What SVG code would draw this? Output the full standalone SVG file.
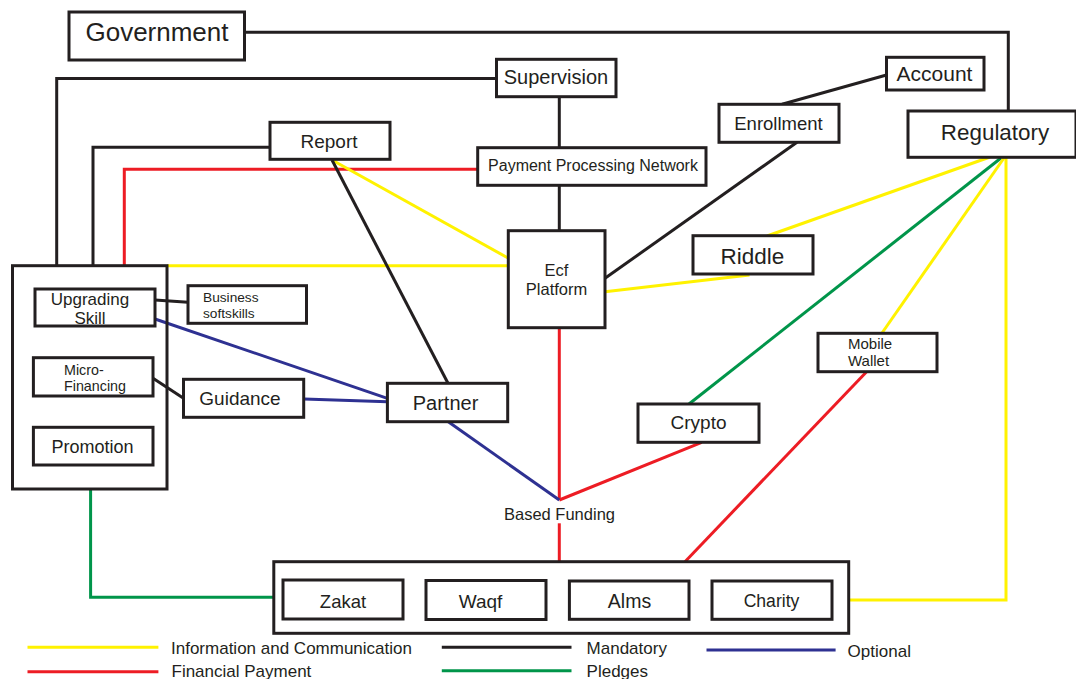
<svg xmlns="http://www.w3.org/2000/svg" width="1076" height="679" viewBox="0 0 1076 679">
<style>
.box{fill:#fff;stroke:#231f20;stroke-width:3}
.cont{fill:none;stroke:#231f20;stroke-width:3}
text{font-family:"Liberation Sans",Arial,sans-serif;fill:#231f20}
.c{text-anchor:middle}
.k{fill:none;stroke:#231f20;stroke-width:3}
.y{fill:none;stroke:#fff200;stroke-width:3}
.r{fill:none;stroke:#ed1c24;stroke-width:3}
.g{fill:none;stroke:#00954a;stroke-width:3}
.b{fill:none;stroke:#2e3192;stroke-width:3}
</style>
<rect width="1076" height="679" fill="#fff"/>
<g id="connectors">
<polyline class="k" points="244.5,32.3 1008.3,32.3 1008.3,111"/>
<polyline class="k" points="496.5,78.5 56.7,78.5 56.7,265.7"/>
<polyline class="k" points="270,147.3 93,147.3 93,265.7"/>
<polyline class="r" points="477.7,169.3 124.3,169.3 124.3,265.7"/>
<line class="y" x1="167" y1="265.7" x2="508" y2="265.7"/>
<line class="y" x1="332" y1="160" x2="508" y2="258"/>
<line class="k" x1="332" y1="160" x2="448" y2="383.3"/>
<line class="k" x1="559.3" y1="96.7" x2="559.3" y2="147.7"/>
<line class="k" x1="559.3" y1="185.3" x2="559.3" y2="230.7"/>
<line class="k" x1="782" y1="104.3" x2="886.5" y2="75"/>
<line class="k" x1="797" y1="142.3" x2="605" y2="278.3"/>
<line class="y" x1="749.5" y1="275" x2="605" y2="291.7"/>
<line class="y" x1="990" y1="157" x2="767" y2="236"/>
<line class="g" x1="1001" y1="158" x2="689" y2="404"/>
<line class="y" x1="1004" y1="158" x2="882" y2="333"/>
<polyline class="y" points="1006,157 1006,600 849,600"/>
<line class="r" x1="559.3" y1="327.7" x2="559.3" y2="500"/>
<line class="r" x1="701.7" y1="442.3" x2="559.3" y2="500"/>
<line class="b" x1="448.3" y1="421.7" x2="559.3" y2="500"/>
<line class="r" x1="559.3" y1="523.3" x2="559.3" y2="561.7"/>
<line class="r" x1="866.6" y1="371.7" x2="685" y2="561.7"/>
<polyline class="g" points="90.6,489 90.6,597.3 273.8,597.3"/>
<line class="b" x1="155" y1="319" x2="387.4" y2="398.3"/>
<line class="b" x1="304" y1="399" x2="387.4" y2="401.7"/>
<line class="k" x1="155" y1="300" x2="188" y2="302.3"/>
<line class="k" x1="153" y1="378.3" x2="183.5" y2="398.3"/>
</g>
<g id="government"><rect class="box" x="69" y="12" width="175.5" height="48"/><text class="c" x="157" y="41" font-size="26">Government</text></g>
<g id="supervision"><rect class="box" x="496.5" y="59.3" width="119.5" height="37.4"/><text class="c" x="556" y="84" font-size="20">Supervision</text></g>
<g id="report"><rect class="box" x="270" y="122.3" width="120" height="37"/><text class="c" x="329" y="147.5" font-size="19">Report</text></g>
<g id="payment-processing-network"><rect class="box" x="477.7" y="147.7" width="228.3" height="37.6"/><text class="c" x="593" y="171" font-size="16">Payment Processing Network</text></g>
<g id="ecf-platform"><rect class="box" x="508.3" y="230.7" width="96.7" height="97"/><text class="c" x="556.5" y="276" font-size="16.5">Ecf</text><text class="c" x="556.5" y="295" font-size="16.5">Platform</text></g>
<g id="account"><rect class="box" x="886.5" y="57.3" width="97.5" height="32.7"/><text class="c" x="934.5" y="80.5" font-size="21">Account</text></g>
<g id="enrollment"><rect class="box" x="719" y="104.3" width="120" height="38"/><text class="c" x="778.5" y="130" font-size="18.5">Enrollment</text></g>
<g id="regulatory"><rect class="box" x="908" y="111" width="168" height="46.3"/><text class="c" x="995" y="140" font-size="22.4">Regulatory</text></g>
<g id="riddle"><rect class="box" x="693" y="235.7" width="120" height="38.3"/><text class="c" x="752.5" y="264" font-size="22.5">Riddle</text></g>
<g id="mobile-wallet"><rect class="box" x="818" y="333.3" width="119" height="38.4"/><text x="848" y="349" font-size="15">Mobile</text><text x="848" y="366" font-size="15">Wallet</text></g>
<g id="crypto"><rect class="box" x="638" y="404" width="121" height="38.3"/><text class="c" x="698.5" y="429" font-size="19">Crypto</text></g>
<g id="partner"><rect class="box" x="387.4" y="383.3" width="120.3" height="38.4"/><text class="c" x="445.5" y="409.5" font-size="20">Partner</text></g>
<g id="based-funding"><text class="c" x="559.5" y="520" font-size="16.5">Based Funding</text></g>
<g id="left-group"><rect class="cont" x="12.5" y="265.7" width="154.5" height="223.3"/></g>
<g id="upgrading-skill"><rect class="box" x="35" y="289" width="120" height="37"/><text class="c" x="90" y="304.5" font-size="17">Upgrading</text><text class="c" x="90" y="323.5" font-size="17">Skill</text></g>
<g id="business-softskills"><rect class="box" x="188" y="285.7" width="118.5" height="37.6"/><text x="203" y="301.7" font-size="13.7">Business</text><text x="203" y="317.5" font-size="13.7">softskills</text></g>
<g id="micro-financing"><rect class="box" x="33.4" y="357.7" width="119.6" height="38.3"/><text x="64" y="375" font-size="14.3">Micro-</text><text x="64" y="391" font-size="14.3">Financing</text></g>
<g id="guidance"><rect class="box" x="183.5" y="379.3" width="120.2" height="38"/><text class="c" x="240" y="404.5" font-size="19">Guidance</text></g>
<g id="promotion"><rect class="box" x="33.4" y="427.3" width="119.6" height="37.7"/><text class="c" x="92.6" y="452.5" font-size="18">Promotion</text></g>
<g id="funds-group"><rect class="cont" x="273.8" y="561.7" width="574.9" height="71.6"/></g>
<g id="zakat"><rect class="box" x="283" y="580" width="120" height="39"/><text class="c" x="343" y="607.5" font-size="18.5">Zakat</text></g>
<g id="waqf"><rect class="box" x="426" y="580.5" width="120" height="39"/><text class="c" x="480.5" y="607.5" font-size="19">Waqf</text></g>
<g id="alms"><rect class="box" x="569.4" y="581" width="119.6" height="38.3"/><text class="c" x="629.5" y="608.3" font-size="19.5">Alms</text></g>
<g id="charity"><rect class="box" x="712" y="581" width="120" height="38.3"/><text class="c" x="771.5" y="606.5" font-size="17.6">Charity</text></g>
<g id="legend">
<line class="y" x1="27.5" y1="647.3" x2="158.4" y2="647.3"/>
<text x="171" y="653.5" font-size="17">Information and Communication</text>
<line class="r" x1="27.5" y1="671.7" x2="158.4" y2="671.7"/>
<text x="171.5" y="677" font-size="17">Financial Payment</text>
<line class="k" x1="441.8" y1="647.3" x2="571.5" y2="647.3"/>
<text x="586.6" y="653.5" font-size="17">Mandatory</text>
<line class="g" x1="441.8" y1="670.7" x2="571.5" y2="670.7"/>
<text x="586.6" y="677" font-size="17">Pledges</text>
<line class="b" x1="706.5" y1="650" x2="835.6" y2="650"/>
<text x="847.6" y="656.7" font-size="17">Optional</text>
</g>
</svg>
